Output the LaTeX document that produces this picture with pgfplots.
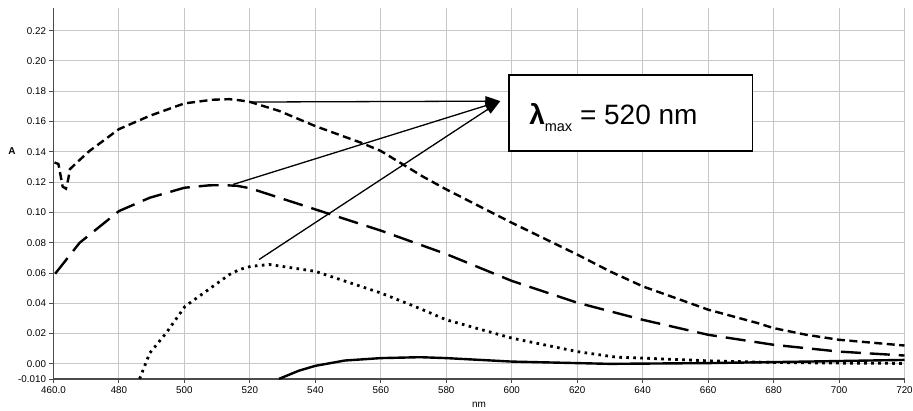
\documentclass[border=0pt]{standalone}
\usepackage{fontspec}
\setmainfont{Liberation Sans}
\usepackage{pgfplots}
\pgfplotsset{compat=1.18}
\usetikzlibrary{arrows.meta}

\begin{document}
\begin{tikzpicture}
\begin{axis}[
  scale only axis, width=851pt, height=371pt,
  xmin=460, xmax=720, ymin=-0.01, ymax=0.235,
  axis lines*=left,
  axis line style={draw=black!70, line width=1.5pt},
  xtick={460,480,500,520,540,560,580,600,620,640,660,680,700,720},
  xticklabels={460.0,480,500,520,540,560,580,600,620,640,660,680,700,720},
  ytick={-0.01,0,0.02,0.04,0.06,0.08,0.10,0.12,0.14,0.16,0.18,0.20,0.22},
  yticklabels={-0.010,0.00,0.02,0.04,0.06,0.08,0.10,0.12,0.14,0.16,0.18,0.20,0.22},
  grid=major, grid style={black!22, line width=1pt},
  tick style={black!70, line width=1pt},
  major tick length=4pt, tick align=outside,
  ticklabel style={font=\fontsize{9.8}{11}\selectfont},
  /pgf/number format/assume math mode=true,
  clip mode=individual,
]
% short dash
\addplot[black, line width=2.4pt, dash pattern=on 8pt off 4.5pt] coordinates {
(460.3,0.133) (461.5,0.132) (462.2,0.124) (462.8,0.117) (463.8,0.1157) (464.5,0.1219)
(465.0,0.1285) (467.1,0.1329) (471,0.1406) (480,0.155) (489.4,0.1638) (500,0.172)
(508.5,0.1744) (513.7,0.1748) (517,0.1740) (520,0.173) (529,0.167) (540,0.157)
(554,0.146) (560,0.1406) (573,0.1235) (580,0.1152) (600,0.0932) (620,0.0722)
(630,0.0611) (640,0.0512) (660,0.0358) (675,0.027) (680,0.0236) (690,0.0192)
(700,0.0159) (720,0.0121)};
% long dash
\addplot[black, line width=2.4pt, dash pattern=on 20pt off 9pt] coordinates {
(460.5,0.0595) (468,0.080) (480,0.1009) (489.4,0.1097) (500,0.1163) (507.6,0.1179)
(512,0.1180) (516,0.1176) (520,0.1160) (540,0.102) (560,0.088) (580,0.0725)
(600,0.0548) (620,0.0404) (640,0.0291) (660,0.0192) (680,0.0126) (700,0.0081)
(720,0.0055)};
% dotted
\addplot[black, line width=2.8pt, dash pattern=on 2.6pt off 4.4pt] coordinates {
(486.3,-0.0099) (489.4,0.0071) (494.4,0.0203) (500.2,0.038) (506.6,0.0479) (513.7,0.0589)
(516.8,0.0623) (520.3,0.0644) (526,0.0656) (540,0.0611) (560,0.0468) (572,0.0365)
(580,0.0291) (600,0.017) (620,0.0081) (632,0.0044) (640,0.0038) (660,0.002)
(680,0.0009) (700,0.0005) (720,0.0003)};
% solid
\addplot[black, line width=2.4pt] coordinates {
(528.9,-0.0099) (535,-0.0045) (540,-0.0013) (549,0.0022) (560,0.0038) (572,0.0044)
(580,0.0038) (600,0.0015) (620,0.0005) (630,0.0) (660,0.0005) (690,0.0015) (720,0.0026)};

\coordinate (tip) at (axis cs:596.5,0.1735);
\coordinate (s1) at (axis cs:519.8,0.1729);
\coordinate (s2) at (axis cs:514.9,0.1185);
\coordinate (s3) at (axis cs:522.8,0.0689);
\coordinate (b1) at (axis cs:599.2,0.1907);
\coordinate (b2) at (axis cs:673.5,0.1404);
\coordinate (tx) at (axis cs:605.3,0.1583);
\coordinate (alab) at (axis cs:460,0.1405);
\coordinate (nlab) at (axis cs:590,-0.01);
\end{axis}
% arrows
\draw[line width=1.3pt, -{Triangle[length=15pt,width=10pt]}] (s1) -- (tip);
\draw[line width=1.3pt, -{Triangle[length=15pt,width=10pt]}] (s2) -- (tip);
\draw[line width=1.3pt, -{Triangle[length=15pt,width=10pt]}] (s3) -- (tip);
% box
\draw[line width=1.6pt, fill=white] (b1) rectangle (b2);
\node[anchor=base west, inner sep=0pt, font=\fontsize{28}{30}\selectfont] at (tx)
  {\textbf{λ}\raisebox{-7pt}{\fontsize{14.5}{15}\selectfont max} = 520 nm};
% axis labels
\node[font=\fontsize{10}{11}\selectfont\bfseries] at ([xshift=-41.5pt]alab) {A};
\node[font=\fontsize{10}{11}\selectfont] at ([yshift=-26pt]nlab) {nm};
\pgfresetboundingbox
\path ([xshift=-53.5pt,yshift=-31pt]current axis.south west) rectangle ([xshift=8.5pt,yshift=8pt]current axis.north east);
\end{tikzpicture}
\end{document}
